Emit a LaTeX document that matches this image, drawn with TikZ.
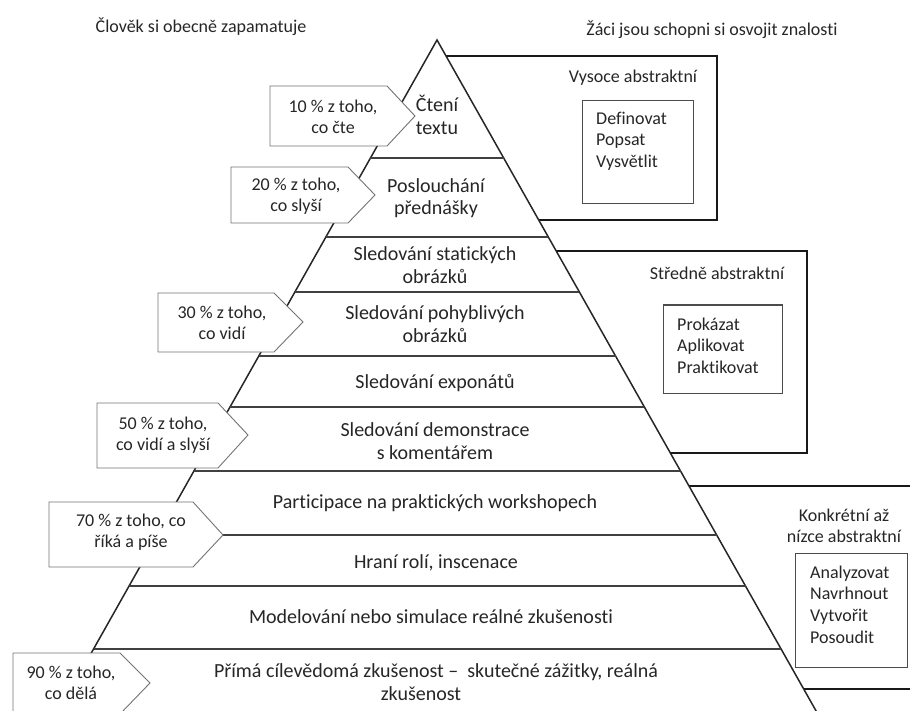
\documentclass[tikz,border=0pt]{standalone}
\usepackage{fontspec}
\setmainfont{Carlito}[Ligatures=NoCommon]
\begin{document}
\begin{tikzpicture}[x=1pt,y=-1pt,
  pyr/.style={line width=1.5pt, draw=black!85, fill=white, line join=miter},
  lvl/.style={line width=1.4pt, draw=black!75},
  bigbox/.style={line width=1.8pt, draw=black!90},
  inbox/.style={line width=1pt, draw=black!70},
  callout/.style={line width=0.9pt, draw=black!55, fill=white},
  ptxt/.style={font=\fontsize{20}{22.5}\selectfont, text=black!85, align=center, inner sep=0pt},
  stxt/.style={font=\fontsize{18}{21.5}\selectfont, text=black!85, align=center, inner sep=0pt},
  ltxt/.style={font=\fontsize{18}{21.6}\selectfont, text=black!85, align=left, inner sep=0pt, anchor=west},
]
\useasboundingbox (0,0) rectangle (910,711);
\clip (0,0) rectangle (910,711);

% right-hand frames (partly hidden behind the pyramid)
\draw[bigbox] (440,56) rectangle (717,220);
\draw[bigbox] (500,251) rectangle (807,453);
\draw[bigbox] (600,486) rectangle (940,689);

% pyramid
\coordinate (apex) at (437,40);
\coordinate (bl) at (53.5,720);
\coordinate (br) at (821.2,720);
\draw[pyr] (apex) -- (bl) -- (br) -- cycle;

% level lines
\draw[lvl] (370.4,158) -- (503.7,158);
\draw[lvl] (325.9,237) -- (548.3,237);
\draw[lvl] (294.9,292) -- (579.4,292);
\draw[lvl] (258.8,356) -- (615.5,356);
\draw[lvl] (230.0,407) -- (644.4,407);
\draw[lvl] (193.9,471) -- (680.5,471);
\draw[lvl] (157.8,535) -- (716.7,535);
\draw[lvl] (129.1,586) -- (745.5,586);
\draw[lvl] (93.5,649) -- (781.1,649);

% inner boxes
\draw[inbox] (582,101) rectangle (693,204);
\draw[inbox] (663,305) rectangle (782,393);
\draw[inbox] (795,553) rectangle (907,667);

% callouts
\draw[callout] (270,86) -- (387,86) -- (415,116) -- (387,146) -- (270,146) -- cycle;
\draw[callout] (231,167) -- (348,167) -- (375,195) -- (348,223) -- (231,223) -- cycle;
\draw[callout] (158,293) -- (274,293) -- (303,322) -- (274,352) -- (158,352) -- cycle;
\draw[callout] (97,403) -- (218,403) -- (248,435) -- (218,468) -- (97,468) -- cycle;
\draw[callout] (49,502) -- (193,502) -- (223,535) -- (193,567) -- (49,567) -- cycle;
\draw[callout] (13,653) -- (120,653) -- (150,683) -- (120,714) -- (13,714) -- cycle;

% headings
\node[stxt] (h1) at (201,27) {Člověk si obecně zapamatuje};
\node[stxt] (h2) at (712,30) {Žáci jsou schopni si osvojit znalosti};

% pyramid texts
\node[ptxt] (p1) at (437,115) {Čtení\\textu};
\node[ptxt] (p2) at (436,198) {Poslouchání\\přednášky};
\node[ptxt] (p3) at (435,265) {Sledování statických\\obrázků};
\node[ptxt] (p4) at (435,324) {Sledování pohyblivých\\obrázků};
\node[ptxt] (p5) at (435,383) {Sledování exponátů};
\node[ptxt] (p6) at (435,441) {Sledování demonstrace\\s komentářem};
\node[ptxt] (p7) at (435,503) {Participace na praktických workshopech};
\node[ptxt] (p8) at (436,563) {Hraní rolí, inscenace};
\node[ptxt] (p9) at (431,617) {Modelování nebo simulace reálné zkušenosti};
\node[ptxt] (p10a) at (436,672) {Přímá cílevědomá zkušenost –\ \ skutečné zážitky, reálná};
\node[ptxt] (p10b) at (421,694) {zkušenost};

% callout texts
\node[stxt] (c1) at (333,117) {10 \% z toho,\\co čte};
\node[stxt] (c2) at (296,196) {20 \% z toho,\\co slyší};
\node[stxt] (c3) at (222,323) {30 \% z toho,\\co vidí};
\node[stxt] (c4) at (163,435) {50 \% z toho,\\co vidí a slyší};
\node[stxt] (c5) at (131,532) {70 \% z toho, co\\říká a píše};
\node[stxt] (c6) at (71,683) {90 \% z toho,\\co dělá};

% frame texts
\node[stxt] (a1) at (633,78) {Vysoce abstraktní};
\node[stxt] (a2) at (717,273) {Středně abstraktní};
\node[stxt] (a3) at (844,526) {Konkrétní až\\nízce abstraktní};
\node[ltxt] (l1) at (596,141) {Definovat\\Popsat\\Vysvětlit};
\node[ltxt] (l2) at (677,345.5) {Prokázat\\Aplikovat\\Praktikovat};
\node[ltxt] (l3) at (810,604.5) {Analyzovat\\Navrhnout\\Vytvořit\\Posoudit};
\end{tikzpicture}
\end{document}
